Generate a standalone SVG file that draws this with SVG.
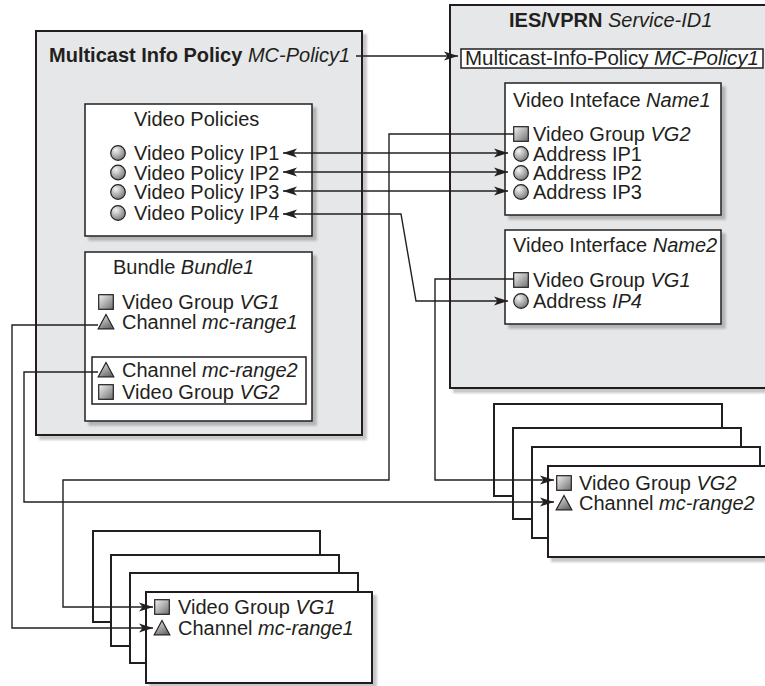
<svg xmlns="http://www.w3.org/2000/svg" width="765" height="686" viewBox="0 0 765 686">
<style>
.t{font-family:"Liberation Sans",Arial,Helvetica,sans-serif;font-size:20px;fill:#231f20}
.b{font-weight:bold}
.i{font-style:italic}
.panel{fill:#e6e7e8;stroke:#231f20;stroke-width:2}
.box{fill:#ffffff;stroke:#231f20;stroke-width:1.5}
.stk{fill:#ffffff;stroke:#231f20;stroke-width:2}
.con{fill:none;stroke:#231f20;stroke-width:1.4}
</style>
<defs>
<filter id="sh" x="-10%" y="-10%" width="130%" height="130%">
<feDropShadow dx="4" dy="4" stdDeviation="1.2" flood-color="#000" flood-opacity="0.22"/>
</filter>
<radialGradient id="gc" cx="0.35" cy="0.3" r="0.8">
<stop offset="0" stop-color="#f4f4f4"/>
<stop offset="1" stop-color="#6d6e71"/>
</radialGradient>
<linearGradient id="gs" x1="0" y1="0" x2="1" y2="1">
<stop offset="0" stop-color="#f4f4f4"/>
<stop offset="1" stop-color="#6d6e71"/>
</linearGradient>
<linearGradient id="gt" x1="0" y1="0" x2="0.6" y2="1">
<stop offset="0" stop-color="#f0f0f0"/>
<stop offset="1" stop-color="#6d6e71"/>
</linearGradient>
<g id="ic-c"><circle r="7.3" fill="url(#gc)" stroke="#231f20" stroke-width="1.2"/></g>
<g id="ic-s"><rect x="-7.3" y="-7.3" width="14.6" height="14.6" fill="url(#gs)" stroke="#231f20" stroke-width="1.2"/></g>
<g id="ic-t"><path d="M0,-7.5 L7.8,6.8 L-7.8,6.8 Z" fill="url(#gt)" stroke="#231f20" stroke-width="1.2"/></g>
<marker id="ar" markerUnits="userSpaceOnUse" markerWidth="14" markerHeight="10" viewBox="0 0 14 10" refX="14" refY="5" orient="auto-start-reverse">
<path d="M0,0.5 L14,5 L0,9.5 L3.5,5 Z" fill="#231f20"/>
</marker>
</defs>

<g id="mc-policy">
<rect class="panel" x="36" y="31" width="326" height="404" filter="url(#sh)"/>
<text class="t" x="49" y="62"><tspan class="b">Multicast Info Policy</tspan> <tspan class="i">MC-Policy1</tspan></text>
</g>

<g id="video-policies">
<rect class="box" x="85" y="104" width="227" height="132" filter="url(#sh)"/>
<text class="t" x="134" y="126">Video Policies</text>
<use href="#ic-c" x="118" y="153"/>
<text class="t" x="134" y="160">Video Policy IP1</text>
<use href="#ic-c" x="118" y="172.5"/>
<text class="t" x="134" y="179.5">Video Policy IP2</text>
<use href="#ic-c" x="118" y="192"/>
<text class="t" x="134" y="199">Video Policy IP3</text>
<use href="#ic-c" x="118" y="213"/>
<text class="t" x="134" y="220">Video Policy IP4</text>
</g>

<g id="bundle">
<rect class="box" x="85" y="252" width="227" height="169" filter="url(#sh)"/>
<text class="t" x="113" y="274">Bundle <tspan class="i">Bundle1</tspan></text>
<use href="#ic-s" x="106" y="302"/>
<text class="t" x="122" y="309">Video Group <tspan class="i">VG1</tspan></text>
<use href="#ic-t" x="106" y="322"/>
<text class="t" x="122" y="329">Channel <tspan class="i">mc-range1</tspan></text>
<rect class="box" x="92" y="357" width="214" height="47"/>
<use href="#ic-t" x="106" y="370"/>
<text class="t" x="122" y="377">Channel <tspan class="i">mc-range2</tspan></text>
<use href="#ic-s" x="106" y="392"/>
<text class="t" x="122" y="399">Video Group <tspan class="i">VG2</tspan></text>
</g>

<g id="ies-vprn">
<rect class="panel" x="450" y="5" width="330" height="383" filter="url(#sh)"/>
<text class="t" x="509" y="27"><tspan class="b">IES/VPRN</tspan> <tspan class="i">Service-ID1</tspan></text>
</g>

<g id="mc-info-policy-ref">
<rect class="box" x="461" y="49" width="302" height="19"/>
<text class="t" x="465" y="65" style="font-size:20.5px">Multicast-Info-Policy <tspan class="i">MC-Policy1</tspan></text>
</g>

<g id="video-interface-name1">
<rect class="box" x="505" y="83" width="216" height="132" filter="url(#sh)"/>
<text class="t" x="513" y="107">Video Inteface <tspan class="i">Name1</tspan></text>
<use href="#ic-s" x="521" y="134"/>
<text class="t" x="533" y="141">Video Group <tspan class="i">VG2</tspan></text>
<use href="#ic-c" x="521" y="154"/>
<text class="t" x="533" y="161">Address IP1</text>
<use href="#ic-c" x="521" y="173"/>
<text class="t" x="533" y="180">Address IP2</text>
<use href="#ic-c" x="521" y="192"/>
<text class="t" x="533" y="199">Address IP3</text>
</g>

<g id="video-interface-name2">
<rect class="box" x="505" y="230" width="216" height="94" filter="url(#sh)"/>
<text class="t" x="513" y="252">Video Interface <tspan class="i">Name2</tspan></text>
<use href="#ic-s" x="521" y="280"/>
<text class="t" x="533" y="287">Video Group <tspan class="i">VG1</tspan></text>
<use href="#ic-c" x="521" y="301"/>
<text class="t" x="533" y="308">Address <tspan class="i">IP4</tspan></text>
</g>

<g id="stack-vg2">
<rect class="stk" x="494" y="404" width="228" height="92"/>
<rect class="stk" x="513" y="428" width="228" height="91"/>
<rect class="stk" x="532" y="447" width="228" height="91"/>
<rect class="stk" x="548" y="466" width="228" height="91" filter="url(#sh)"/>
<use href="#ic-s" x="564" y="483"/>
<text class="t" x="579" y="490">Video Group <tspan class="i">VG2</tspan></text>
<use href="#ic-t" x="564" y="503"/>
<text class="t" x="579" y="510">Channel <tspan class="i">mc-range2</tspan></text>
</g>

<g id="stack-vg1">
<rect class="stk" x="93" y="531" width="227" height="91"/>
<rect class="stk" x="111" y="555" width="228" height="91"/>
<rect class="stk" x="130" y="573" width="228" height="90"/>
<rect class="stk" x="146" y="592" width="226" height="91" filter="url(#sh)"/>
<use href="#ic-s" x="162" y="607"/>
<text class="t" x="178" y="614">Video Group <tspan class="i">VG1</tspan></text>
<use href="#ic-t" x="162" y="628"/>
<text class="t" x="178" y="635">Channel <tspan class="i">mc-range1</tspan></text>
</g>

<g id="connectors">
<path class="con" d="M356,56 H458" marker-end="url(#ar)"/>
<path class="con" d="M283,153 H508" marker-start="url(#ar)" marker-end="url(#ar)"/>
<path class="con" d="M283,172 H508" marker-start="url(#ar)" marker-end="url(#ar)"/>
<path class="con" d="M283,191 H508" marker-start="url(#ar)" marker-end="url(#ar)"/>
<path class="con" d="M283,214 H401 L416,301 H508" marker-start="url(#ar)" marker-end="url(#ar)"/>
<path class="con" d="M514,134 H389 V480 H63 V607 H153" marker-end="url(#ar)"/>
<path class="con" d="M514,279 H435 V480 H554" marker-end="url(#ar)"/>
<path class="con" d="M98,325 H12 V628 H153" marker-end="url(#ar)"/>
<path class="con" d="M98,372 H24 V502 H554" marker-end="url(#ar)"/>
</g>
</svg>
